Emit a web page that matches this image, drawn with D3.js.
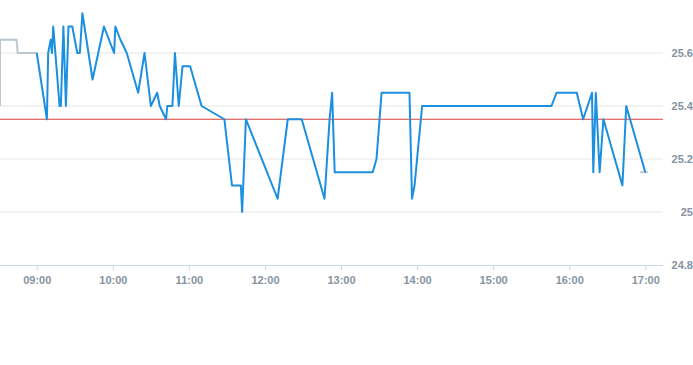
<!DOCTYPE html>
<html>
<head>
<meta charset="utf-8">
<script src="https://cdn.jsdelivr.net/npm/d3@7"></script>
<style>
  body { margin: 0; background: #fff; }
  svg { display: block; font-family: "Liberation Sans", Arial, sans-serif; }
</style>
</head>
<body>
<svg id="chart" width="693" height="365"></svg>
<script>
// regular session prices
const tradeTimes = ["09:00","09:08","09:09","09:11","09:12","09:13","09:18","09:19","09:21","09:23",
  "09:25","09:28","09:32","09:34","09:36","09:44","09:53","10:01","10:02","10:06",
  "10:11","10:20","10:25","10:30","10:35","10:37","10:42","10:43","10:47","10:49",
  "10:52","10:55","11:01","11:10","11:28","11:34","11:41","11:42","11:45","12:10",
  "12:18","12:29","12:47","12:51","12:53","12:55","13:25","13:28","13:32","13:54",
  "13:56","13:58","14:04","15:46","15:50","16:06","16:11","16:18","16:19","16:21",
  "16:24","16:27","16:42","16:45","17:00"];
const tradePrices = [25.6,25.35,25.6,25.65,25.6,25.7,25.4,25.4,25.7,25.4,
  25.7,25.7,25.6,25.6,25.75,25.5,25.7,25.6,25.7,25.65,
  25.6,25.45,25.6,25.4,25.45,25.4,25.35,25.4,25.4,25.6,
  25.4,25.55,25.55,25.4,25.35,25.1,25.1,25.0,25.35,25.05,
  25.35,25.35,25.05,25.35,25.45,25.15,25.15,25.2,25.45,25.45,
  25.05,25.1,25.4,25.4,25.45,25.45,25.35,25.45,25.15,25.45,
  25.15,25.35,25.1,25.4,25.15];

// pre / post market
const preTimes = ["08:31","08:31","08:44","08:45","09:00"];
const prePrices = [25.4,25.65,25.65,25.6,25.6];
const postTimes = ["16:56","17:02"];
const postPrices = [25.15,25.15];

const prevClose = 25.35;
const yTicks = [24.8,25,25.2,25.4,25.6];
const xTicks = ["09:00","10:00","11:00","12:00","13:00","14:00","15:00","16:00","17:00"];

const parse = d3.timeParse("%H:%M");
const svg = d3.select("#chart");

const x = d3.scaleTime()
  .domain([parse("08:31"), parse("17:14")])
  .range([0, 663]);
const y = d3.scaleLinear()
  .domain([24.8, 25.8])
  .range([265, 0]);

// grid lines
svg.append("g")
  .selectAll("line")
  .data(yTicks.slice(1))
  .enter()
  .append("line")
  .attr("x1", 0).attr("x2", 663)
  .attr("y1", d => y(d)).attr("y2", d => y(d))
  .attr("stroke", "#e6e6e6");

// x axis
const xAxis = svg.append("g")
  .attr("transform", "translate(0,265)")
  .call(d3.axisBottom(x)
    .tickValues(xTicks.map(parse))
    .tickFormat(d3.timeFormat("%H:%M"))
    .tickSize(5)
    .tickPadding(6));
xAxis.select(".domain").attr("stroke", "#ccd6eb").attr("d", "M0,0.5H663");
xAxis.selectAll(".tick line").attr("stroke", "#ccd6eb");
xAxis.selectAll("text")
  .attr("fill", "#8793a0")
  .style("font-size", "11px")
  .style("font-weight", "bold");

// y labels on the right
svg.append("g")
  .selectAll("text")
  .data(yTicks)
  .enter()
  .append("text")
  .attr("x", 693)
  .attr("y", d => y(d) + 4)
  .attr("text-anchor", "end")
  .attr("fill", "#8793a0")
  .style("font-size", "11px")
  .style("font-weight", "bold")
  .text(d => d3.format("~g")(d));

const line = d3.line()
  .x(d => x(parse(d[0])))
  .y(d => y(d[1]));

// previous close
svg.append("line")
  .attr("x1", 0).attr("x2", 663)
  .attr("y1", y(prevClose)).attr("y2", y(prevClose))
  .attr("stroke", "#d9403a")
  .attr("stroke-width", 1);

svg.append("path")
  .datum(d3.zip(preTimes, prePrices))
  .attr("d", line)
  .attr("fill", "none")
  .attr("stroke", "#bcc6cf")
  .attr("stroke-width", 2);

svg.append("path")
  .datum(d3.zip(postTimes, postPrices))
  .attr("d", line)
  .attr("fill", "none")
  .attr("stroke", "#bcc6cf")
  .attr("stroke-width", 2);

svg.append("path")
  .datum(d3.zip(tradeTimes, tradePrices))
  .attr("d", line)
  .attr("fill", "none")
  .attr("stroke", "#1b8fe0")
  .attr("stroke-width", 2)
  .attr("stroke-linejoin", "round");
</script>
</body>
</html>
